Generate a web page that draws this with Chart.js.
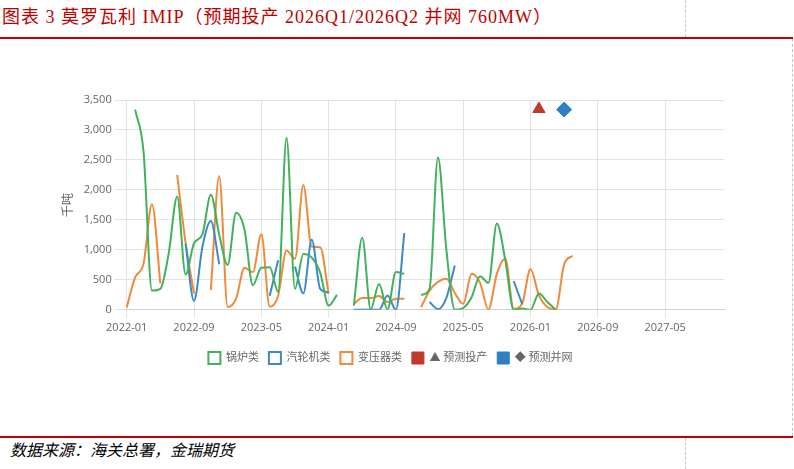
<!DOCTYPE html>
<html><head><meta charset="utf-8">
<script src="https://cdn.jsdelivr.net/npm/chart.js@4.4.1/dist/chart.umd.min.js"></script>
<style>
html,body{margin:0;padding:0;background:#fff;width:794px;height:469px;overflow:hidden;position:relative;font-family:"Noto Sans CJK SC",sans-serif;}
#title{position:absolute;left:2px;top:5px;font-family:"Liberation Serif","Noto Sans CJK SC",serif;font-size:18px;letter-spacing:1px;color:#c00000;white-space:nowrap;line-height:24px;}
.redline{position:absolute;left:0;width:793px;height:2px;background:#c00000;}
.dash{position:absolute;width:0;border-left:1px dashed #c8c8c8;}
#src{position:absolute;left:10px;top:439px;font-size:16px;font-style:italic;color:#000;white-space:nowrap;line-height:20px;}
#wrap{position:absolute;left:0;top:40px;width:794px;height:334px;}
</style></head><body>
<div id="title">图表 3 莫罗瓦利 IMIP（预期投产 2026Q1/2026Q2 并网 760MW）</div>
<div class="redline" style="top:37px"></div>
<div class="redline" style="top:436px"></div>
<div class="dash" style="left:685px;top:0;height:37px"></div>
<div class="dash" style="left:792px;top:39px;height:397px"></div>
<div class="dash" style="left:685px;top:438px;height:31px"></div>
<div id="src">数据来源：海关总署，金瑞期货</div>
<div id="wrap"><canvas id="c"></canvas></div>
<script>
// categories: months 2022-01 .. 2027-12
const months = [];
for (let y = 2022; y <= 2027; y++) for (let m = 1; m <= 12; m++) months.push(y + '-' + String(m).padStart(2, '0'));

const boilerValues = [null,3340,2640,320,350,950,1890,590,1110,1260,1920,1250,750,1620,1340,410,700,710,300,2870,350,930,870,620,70,250,null,70,1200,10,430,5,630,600,null,250,350,2540,1000,0,30,210,560,450,1440,830,0,20,0,270,130,0];
const turbineValues = [null,null,null,null,null,null,null,1100,150,1050,1480,760,null,null,null,null,null,235,825,null,720,275,1170,350,290,null,null,0,0,0,0,240,0,1280,null,null,130,10,200,740,null,null,null,null,null,null,480,100];
const transformerValues = [40,540,770,1760,440,null,2250,1120,270,null,330,2230,45,185,700,630,1260,50,235,990,850,2080,1050,1045,270,null,null,100,195,195,230,130,185,185,null,45,320,465,520,280,100,600,450,5,600,855,17,100,680,240,45,5,760,900];
const prodMonths = ['2026-02'];
const prodValues = [3350];
const gridMonths = ['2026-05'];
const gridValues = [3340];
const yTicks = [0,500,1000,1500,2000,2500,3000,3500];

const GREEN = '#40b25c', BLUE = '#3d89c9', ORANGE = '#ef8a3a', RED = '#c0392b', DBLUE = '#2e7fc4';
const FONT = '"Open Sans","Noto Sans CJK SC",sans-serif';

function lineDs(label, data, color) {
  return { label, data, borderColor: color, backgroundColor: '#fff', borderWidth: 2,
    pointRadius: 0, pointHoverRadius: 0, fill: false, spanGaps: false, cubicInterpolationMode: 'monotone' };
}
function pointDs(label, ms, vs, color, style, r) {
  return { label, data: ms.map((m, i) => ({ x: m, y: vs[i] })), showLine: false,
    borderColor: color, backgroundColor: color, pointStyle: style, pointRadius: r, pointBorderWidth: 1, borderWidth: 1 };
}

new Chart(document.getElementById('c'), {
  type: 'line',
  data: {
    labels: months,
    datasets: [
      lineDs('锅炉类', boilerValues, GREEN),
      lineDs('汽轮机类', turbineValues, BLUE),
      lineDs('变压器类', transformerValues, ORANGE),
      pointDs('▲ 预测投产', prodMonths, prodValues, RED, 'triangle', 7),
      pointDs('◆ 预测并网', gridMonths, gridValues, DBLUE, 'rectRot', 7.5)
    ]
  },
  options: {
    animation: false, responsive: true, maintainAspectRatio: false,
    layout: { padding: { left: 57, right: 70, top: 60, bottom: 0 } },
    plugins: {
      legend: { position: 'bottom', labels: { boxWidth: 12, boxHeight: 12, padding: 10, color: '#666', font: { family: FONT, size: 11 } } },
      tooltip: { enabled: false }
    },
    scales: {
      x: {
        type: 'category',
        afterBuildTicks: (axis) => { axis.ticks = axis.ticks.filter(t => t.value % 8 === 0); },
        afterFit: (s) => { s.height += 5; },
        ticks: { autoSkip: false, maxRotation: 0, color: '#666', font: { family: FONT, size: 11 } },
        grid: { color: '#e3e3e3', tickLength: 8 },
        border: { color: '#d0d0d0' }
      },
      y: {
        min: 0, max: 3500,
        afterBuildTicks: (axis) => { axis.ticks = yTicks.map(v => ({ value: v })); },
        afterFit: (s) => { s.width = 69.7; },
        ticks: { color: '#666', font: { family: FONT, size: 11 }, callback: v => v.toLocaleString('en-US') },
        grid: { color: '#e3e3e3', tickLength: 12 },
        border: { display: false },
        title: { display: true, text: '千吨', color: '#666', font: { family: FONT, size: 12 } }
      }
    }
  }
});
</script>
</body></html>
